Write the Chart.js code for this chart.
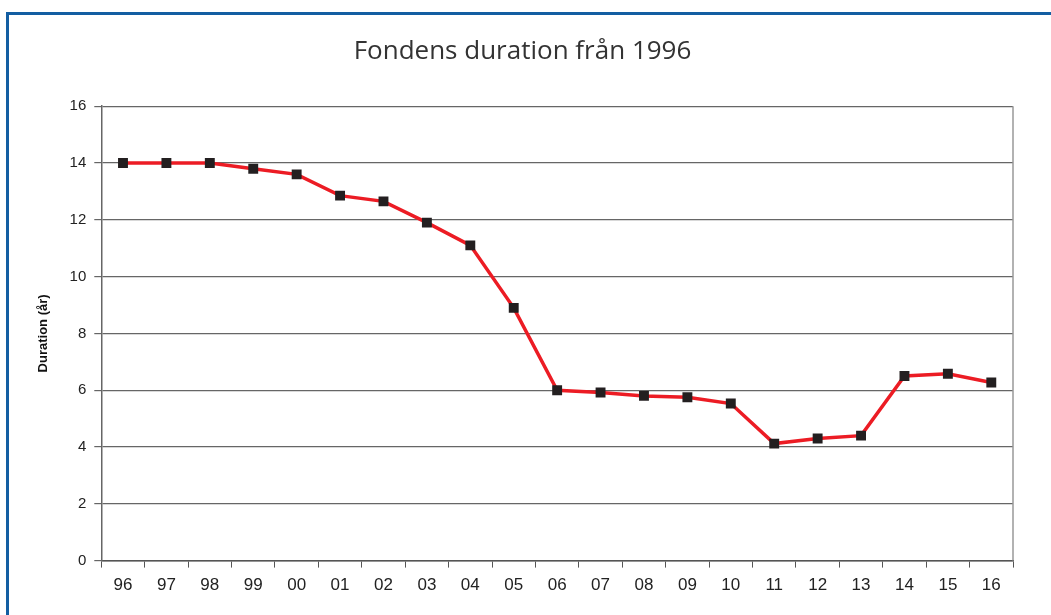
<!DOCTYPE html>
<html>
<head>
<meta charset="utf-8">
<script src="https://cdn.jsdelivr.net/npm/chart.js@4"></script>
<style>
    body { margin: 0; background: #fff; }
    #frame {
        position: absolute; left: 6px; top: 12px; width: 1060px; height: 620px;
        border-left: 3px solid #135ea2; border-top: 3px solid #135ea2;
    }
    #wrap { position: absolute; left: 0; top: 0; width: 1051px; height: 615px; }
</style>
</head>
<body>
<div id="frame"></div>
<div id="wrap"><canvas id="durChart"></canvas></div>
<script>
const years = ['96', '97', '98', '99', '00', '01', '02', '03', '04', '05', '06',
    '07', '08', '09', '10', '11', '12', '13', '14', '15', '16'];
const duration = [14.0, 14.0, 14.0, 13.8, 13.6, 12.85, 12.65, 11.9, 11.1, 8.9, 6.0,
    5.92, 5.8, 5.75, 5.53, 4.12, 4.3, 4.4, 6.5, 6.58, 6.27];
const yTicks = [0, 2, 4, 6, 8, 10, 12, 14, 16];

// grey border on the right side of the plot
const rightBorder = {
    id: 'rightBorder',
    afterDraw(chart) {
        const a = chart.chartArea;
        const c = chart.ctx;
        c.save();
        c.strokeStyle = '#999';
        c.lineWidth = 1.5;
        c.beginPath();
        c.moveTo(a.right, a.top);
        c.lineTo(a.right, a.bottom);
        c.stroke();
        c.restore();
    }
};

const ctx = document.getElementById('durChart').getContext('2d');
new Chart(ctx, {
    type: 'line',
    data: {
        labels: years,
        datasets: [{
            label: 'Duration',
            data: duration,
            borderColor: '#ec1c24',
            borderWidth: 3.5,
            pointStyle: 'rect',
            pointRadius: 7,
            pointBackgroundColor: '#231f20',
            pointBorderColor: '#231f20',
            pointBorderWidth: 0,
            tension: 0
        }]
    },
    options: {
        responsive: true,
        maintainAspectRatio: false,
        animation: false,
        layout: { padding: { left: 32, right: 38, top: 10, bottom: 11 } },
        plugins: {
            legend: { display: false },
            tooltip: { enabled: false },
            title: {
                display: true,
                text: 'Fondens duration från 1996',
                color: '#333',
                font: { family: 'Open Sans', size: 26, weight: 'normal' },
                padding: { top: 26, bottom: 39 }
            }
        },
        scales: {
            x: {
                offset: true,
                grid: {
                    offset: true,
                    drawOnChartArea: false,
                    drawTicks: true,
                    tickLength: 7,
                    color: '#555'
                },
                border: { color: '#555', width: 1.5 },
                ticks: {
                    color: '#222',
                    font: { family: 'Liberation Sans', size: 17 },
                    padding: 8,
                    maxRotation: 0,
                    autoSkip: false
                }
            },
            y: {
                min: 0,
                max: 16,
                afterBuildTicks: axis => {
                    axis.ticks = yTicks.map(v => ({ value: v }));
                },
                grid: {
                    color: '#666',
                    lineWidth: 1.2,
                    tickLength: 7
                },
                border: { color: '#666', width: 1.5 },
                ticks: {
                    color: '#222',
                    font: { family: 'Liberation Sans', size: 15 },
                    padding: 8
                },
                title: {
                    display: true,
                    text: 'Duration (år)',
                    color: '#111',
                    font: { family: 'Liberation Sans', size: 13, weight: 'bold' },
                    padding: { bottom: 10 }
                }
            }
        }
    },
    plugins: [rightBorder]
});
</script>
</body>
</html>
